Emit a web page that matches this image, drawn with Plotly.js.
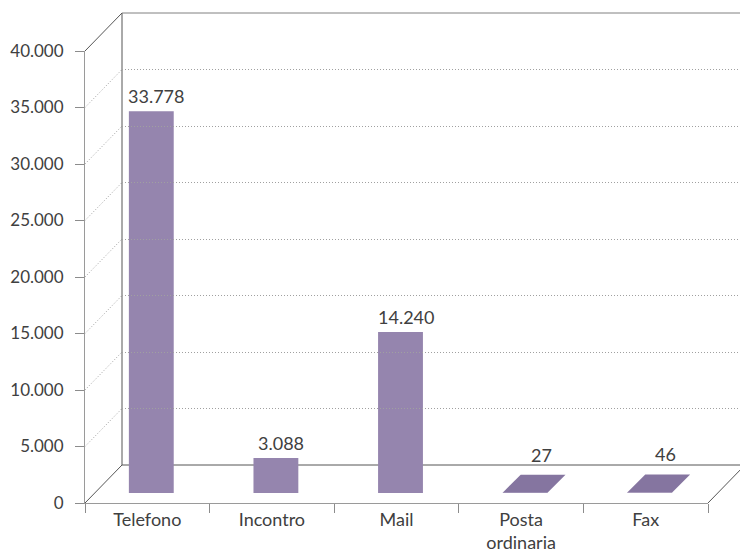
<!DOCTYPE html>
<html>
<head>
<meta charset="utf-8">
<script src="https://cdn.plot.ly/plotly-3.0.1.min.js"></script>
<style>html,body{margin:0;padding:0;background:#fff;}#chart{width:740px;height:556px;}</style>
</head>
<body>
<div id="chart"></div>
<script>
// ---- data ----
var categories = ["Telefono", "Incontro", "Mail", "Posta<br>ordinaria", "Fax"];
var values = [33778, 3088, 14240, 27, 46];
var yTickVals = [0, 5000, 10000, 15000, 20000, 25000, 30000, 35000, 40000];

// ---- geometry (pixels) ----
var W = 740, H = 556;
var ML = 85, MR = 0, MT = 13, MB = 53;
var PW = W - ML - MR, PH = H - MT - MB;      // 655 x 490
var FRONT_W = 623, FRONT_H = 452;            // front frame size
var DX = 37, DY = 38;                        // depth of the box
var BAR_DX = 4, BAR_DY = 10;                 // bar plane inside the box
var BAR_W = 0.36;                            // in category units
var TOP_DEPTH = 18;                          // depth of bar top face (px)
var YMAX = 40000;

var FONT = "Lato, 'Open Sans', sans-serif";
var TXT = "#404040";
var BAR_COLOR = "#9585ae";
var TOP_COLOR = "#8575a0";
var FRAME = "#555555";
var GRID = "#a0a0a0";
var GRID_DASH = "1px,2px";

function fmt(v) { return String(v).replace(/\B(?=(\d{3})+(?!\d))/g, "."); }

var catPx = FRONT_W / categories.length;
var fx = function (px) { return px / PW; };
var fy = function (px) { return px / PH; };

var traces = [
  {
    type: "bar", x: categories, y: values, xaxis: "x2", yaxis: "y2",
    width: BAR_W, marker: { color: BAR_COLOR, line: { width: 0 } },
    hoverinfo: "skip"
  },
  { type: "scatter", x: categories, y: categories.map(function () { return 0; }),
    xaxis: "x", yaxis: "y", mode: "markers", marker: { opacity: 0 }, hoverinfo: "skip" },
  { type: "scatter", x: [0], y: [0], xaxis: "x3", yaxis: "y3", mode: "markers",
    marker: { opacity: 0 }, hoverinfo: "skip" }
];

var shapes = [];
function pline(x0, y0, x1, y1, color, dash) {
  shapes.push({ type: "line", xref: "paper", yref: "paper", x0: x0, y0: y0, x1: x1, y1: y1,
    line: { color: color, width: 1, dash: dash || "solid" }, layer: "below" });
}
// dotted diagonals of the grid on the left wall
yTickVals.forEach(function (v) {
  if (v > 0 && v < YMAX) {
    var yf = v / YMAX * FRONT_H;
    pline(0, fy(yf), fx(DX), fy(yf + DY), GRID, GRID_DASH);
  }
});
// box frame
pline(0, fy(FRONT_H), fx(DX), 1, FRAME);                    // left wall top edge
pline(0, 0, fx(DX), fy(DY), FRAME);                          // floor left edge
pline(fx(DX), fy(DY), fx(DX), 1, FRAME);                     // back wall left edge
pline(fx(DX), 1, 1.02, 1, "#808080");                        // back wall top edge
pline(fx(DX), fy(DY), 1.02, fy(DY), FRAME);                  // floor back edge
pline(fx(FRONT_W), 0, fx(FRONT_W + DX), fy(DY), FRAME);      // floor right edge

// top faces of bars too low to show a front face
var halfW = BAR_W * catPx / 2;
values.forEach(function (v, i) {
  if (v / YMAX * FRONT_H < 2) {
    shapes.push({
      type: "path", xref: "x2", yref: "y2", xsizemode: "pixel", ysizemode: "pixel",
      xanchor: i, yanchor: v,
      path: "M" + (-halfW) + ",0 L" + halfW + ",0 L" + (halfW + TOP_DEPTH) + "," + TOP_DEPTH +
            " L" + (-halfW + TOP_DEPTH) + "," + TOP_DEPTH + " Z",
      fillcolor: TOP_COLOR, line: { width: 0 }, layer: "above"
    });
  }
});

// value labels
var annotations = values.map(function (v, i) {
  var flat = v / YMAX * FRONT_H < 2;
  return {
    xref: "x2", yref: "y2", x: i, y: v, text: fmt(v), showarrow: false,
    yanchor: "bottom", xanchor: "center",
    xshift: flat ? 16 : 5, yshift: flat ? TOP_DEPTH + 7 : 2,
    font: { family: FONT, size: 18, color: TXT }
  };
});

var layout = {
  width: W, height: H,
  margin: { l: ML, r: MR, t: MT, b: MB, pad: 0 },
  paper_bgcolor: "#ffffff", plot_bgcolor: "rgba(0,0,0,0)",
  separators: ",.",
  showlegend: false,
  font: { family: FONT, size: 18, color: TXT },
  xaxis: {
    domain: [0, fx(FRONT_W)], anchor: "y", type: "category",
    categoryorder: "array", categoryarray: categories,
    range: [-0.5, categories.length - 0.5],
    tickson: "boundaries", ticks: "outside", ticklen: 9, tickcolor: "#8c8c8c",
    showline: true, linecolor: "#9a9a9a", linewidth: 1, showgrid: false, zeroline: false,
    tickfont: { family: FONT, size: 18, color: TXT }, fixedrange: true
  },
  yaxis: {
    domain: [0, fy(FRONT_H)], anchor: "x", range: [0, YMAX],
    tickvals: yTickVals, tickformat: ",d", ticks: "outside", ticklen: 9, tickcolor: "#8c8c8c",
    showline: true, linecolor: "#9a9a9a", linewidth: 1, showgrid: false, zeroline: false,
    ticklabelstandoff: 8,
    tickfont: { family: FONT, size: 17, color: TXT }, fixedrange: true
  },
  xaxis2: {
    domain: [fx(BAR_DX), fx(BAR_DX + FRONT_W)], anchor: "y2", type: "category",
    categoryorder: "array", categoryarray: categories,
    range: [-0.5, categories.length - 0.5], visible: false, fixedrange: true
  },
  yaxis2: {
    domain: [fy(BAR_DY), fy(BAR_DY + FRONT_H)], anchor: "x2", range: [0, YMAX],
    visible: false, fixedrange: true
  },
  xaxis3: {
    domain: [fx(DX), 1], anchor: "y3",
    range: [-0.5, -0.5 + (PW - DX) / catPx], visible: false, fixedrange: true
  },
  yaxis3: {
    domain: [fy(DY), 1], anchor: "x3", range: [0, YMAX],
    tickvals: yTickVals.filter(function (v) { return v > 0 && v < YMAX; }),
    showticklabels: false, ticks: "", showline: false, zeroline: false,
    showgrid: true, gridcolor: GRID, gridwidth: 1, griddash: GRID_DASH, fixedrange: true
  },
  shapes: shapes,
  annotations: annotations
};

Plotly.newPlot("chart", traces, layout, { displayModeBar: false, staticPlot: true });
</script>
</body>
</html>
